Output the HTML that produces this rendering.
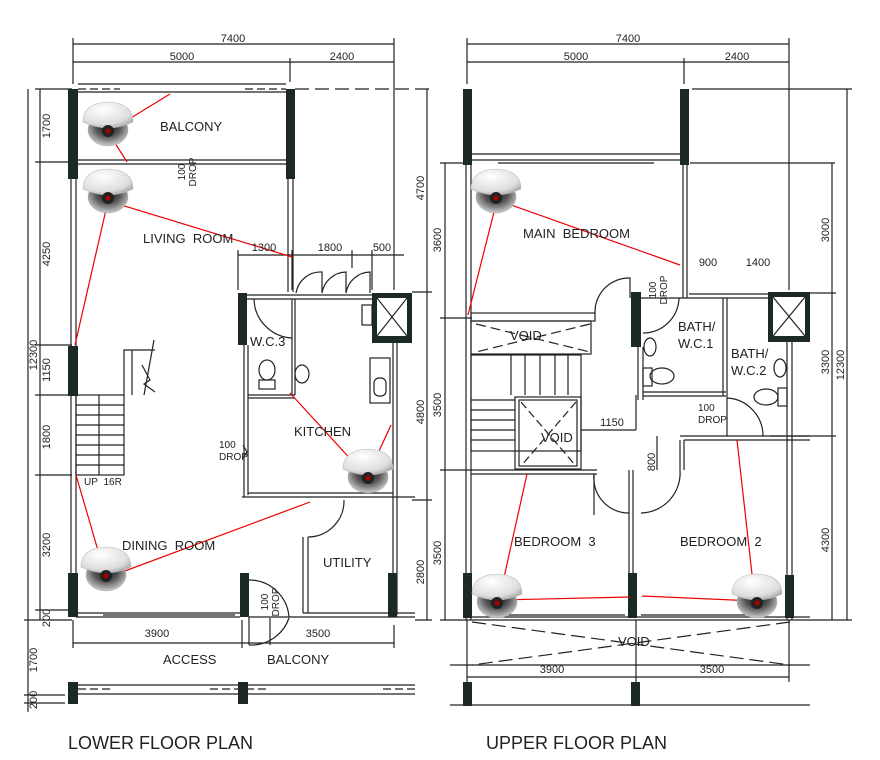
<!DOCTYPE html>
<html><head><meta charset="utf-8"><style>
html,body{margin:0;padding:0;background:#fff;}
svg{display:block;font-family:"Liberation Sans",sans-serif;}
text{fill:#222;}
</style></head><body>
<svg width="880" height="760" viewBox="0 0 880 760" xmlns="http://www.w3.org/2000/svg">
<defs>
<radialGradient id="dome" cx="0.4" cy="0.3" r="0.8"><stop offset="0" stop-color="#fff"/><stop offset="0.7" stop-color="#ddd"/><stop offset="1" stop-color="#999"/></radialGradient>
<radialGradient id="lens" cx="0.5" cy="0.4" r="0.6"><stop offset="0" stop-color="#111"/><stop offset="0.5" stop-color="#555"/><stop offset="1" stop-color="#ccc"/></radialGradient>
<g id="cam">
<ellipse cx="0" cy="12" rx="20" ry="16" fill="url(#lens)" stroke="#aaa" stroke-width="0.5"/>
<path d="M-25 4 Q-25 -15 0 -16 Q25 -15 25 4 Q12 10 0 10 Q-12 10 -25 4Z" fill="url(#dome)" stroke="#bbb" stroke-width="0.6"/>
<circle cx="0" cy="13" r="6" fill="#222"/><circle cx="0" cy="13" r="2.5" fill="#a00"/>
</g>
</defs>
<g stroke="#222" fill="none" stroke-width="1.2">
<!-- ===== LOWER PLAN ===== -->
<!-- top dims -->
<line x1="73" y1="44" x2="394" y2="44"/><line x1="73" y1="62" x2="394" y2="62"/>
<line x1="73" y1="38" x2="73" y2="84"/><line x1="394" y1="38" x2="394" y2="290"/><line x1="290" y1="58" x2="290" y2="82"/>
<!-- left dims -->
<line x1="40" y1="89" x2="40" y2="620"/><line x1="28" y1="89" x2="28" y2="712"/>
<line x1="35" y1="89" x2="72" y2="89"/><line x1="35" y1="162" x2="72" y2="162"/><line x1="35" y1="345" x2="72" y2="345"/><line x1="35" y1="395" x2="72" y2="395"/><line x1="35" y1="475" x2="72" y2="475"/><line x1="35" y1="610" x2="72" y2="610"/><line x1="24" y1="620" x2="72" y2="620"/><line x1="24" y1="695" x2="65" y2="695"/><line x1="24" y1="703" x2="65" y2="703"/>
<!-- right dims -->
<line x1="427" y1="89" x2="427" y2="620"/><line x1="295" y1="89" x2="432" y2="89" stroke-dasharray="14 6"/>
<line x1="412" y1="292" x2="432" y2="292"/><line x1="412" y1="500" x2="432" y2="500"/><line x1="415" y1="620" x2="432" y2="620"/>
<!-- kitchen dims -->
<line x1="238" y1="255" x2="404" y2="255"/><line x1="238" y1="250" x2="238" y2="290"/><line x1="292" y1="250" x2="292" y2="290"/><line x1="352" y1="250" x2="352" y2="268"/><line x1="372" y1="250" x2="372" y2="290"/>
<!-- balcony -->
<rect x="68" y="89" width="10" height="90" fill="#1b2a22" stroke="none"/>
<rect x="286" y="89" width="9" height="90" fill="#1b2a22" stroke="none"/>
<line x1="78" y1="84" x2="286" y2="84"/><line x1="78" y1="92" x2="286" y2="92"/><line x1="78" y1="89" x2="120" y2="89" stroke-dasharray="8 4"/><line x1="245" y1="89" x2="286" y2="89" stroke-dasharray="8 4"/>
<line x1="78" y1="160" x2="286" y2="160"/><line x1="78" y1="164" x2="286" y2="164"/>
<!-- left walls -->
<line x1="71" y1="179" x2="71" y2="575"/><line x1="76" y1="179" x2="76" y2="575"/>
<rect x="68" y="346" width="10" height="50" fill="#1b2a22" stroke="none"/>
<rect x="68" y="573" width="10" height="44" fill="#1b2a22" stroke="none"/>
<line x1="288" y1="179" x2="288" y2="292"/><line x1="293" y1="179" x2="293" y2="292"/>
<!-- stair -->
<rect x="76" y="395" width="48" height="80"/><line x1="99" y1="395" x2="99" y2="475"/>
<line x1="76" y1="405" x2="124" y2="405"/><line x1="76" y1="415" x2="124" y2="415"/><line x1="76" y1="425" x2="124" y2="425"/><line x1="76" y1="435" x2="124" y2="435"/><line x1="76" y1="445" x2="124" y2="445"/><line x1="76" y1="455" x2="124" y2="455"/><line x1="76" y1="465" x2="124" y2="465"/>
<path d="M124 395 L124 350 L155 350 M132 350 L132 395 M142 365 L150 380 L144 384 L155 392"/>
<line x1="154" y1="340" x2="144" y2="395"/>
<!-- kitchen / wc -->
<rect x="238" y="293" width="9" height="52" fill="#1b2a22" stroke="none"/>
<line x1="247" y1="295" x2="372" y2="295"/><line x1="247" y1="299" x2="372" y2="299"/>
<line x1="244" y1="345" x2="244" y2="497"/><line x1="248" y1="345" x2="248" y2="495"/>
<line x1="242" y1="497" x2="415" y2="497"/><line x1="248" y1="493" x2="393" y2="493"/>
<line x1="292" y1="299" x2="292" y2="395"/><line x1="295" y1="299" x2="295" y2="395"/>
<line x1="248" y1="395" x2="295" y2="395"/><line x1="248" y1="398" x2="295" y2="398"/>
<line x1="393" y1="343" x2="393" y2="615"/><line x1="397" y1="343" x2="397" y2="615"/>
<path d="M254 299 A40 40 0 0 0 292 338"/>
<path d="M296 293 A25 25 0 0 1 322 272 L322 293 A25 25 0 0 1 346 272 L346 293 A25 25 0 0 1 370 272 L370 293"/>
<rect x="372" y="293" width="40" height="50" fill="#1b2a22" stroke="none"/>
<rect x="377" y="298" width="30" height="38" fill="#fff" stroke="none"/>
<path d="M377 298 L407 336 M407 298 L377 336"/>
<rect x="362" y="305" width="10" height="20"/>
<rect x="370" y="358" width="20" height="45"/><rect x="374" y="378" width="12" height="18" rx="5"/>
<ellipse cx="267" cy="370" rx="8" ry="10"/><rect x="259" y="380" width="16" height="9"/>
<ellipse cx="302" cy="374" rx="7" ry="9"/>
<path d="M243 445 L247 452 L243 458"/>
<!-- dining / utility -->
<rect x="240" y="573" width="9" height="44" fill="#1b2a22" stroke="none"/>
<rect x="388" y="573" width="9" height="44" fill="#1b2a22" stroke="none"/>
<line x1="76" y1="613" x2="240" y2="613"/><line x1="76" y1="617" x2="240" y2="617"/><line x1="103" y1="615" x2="235" y2="615"/>
<line x1="249" y1="617" x2="415" y2="617"/><line x1="303" y1="613" x2="415" y2="613"/>
<line x1="303" y1="537" x2="303" y2="613"/><line x1="308" y1="537" x2="308" y2="613"/>
<path d="M308 537 A36 36 0 0 0 344 500"/>
<path d="M249 580 A40 40 0 0 1 289 617 M249 645 A40 40 0 0 0 289 618 M270 645 L270 618"/>
<line x1="249" y1="617" x2="249" y2="645"/>
<!-- bottom dims -->
<line x1="73" y1="643" x2="394" y2="643"/><line x1="73" y1="620" x2="73" y2="648"/><line x1="242" y1="620" x2="242" y2="648"/><line x1="394" y1="625" x2="394" y2="648"/>
<rect x="68" y="682" width="10" height="22" fill="#1b2a22" stroke="none"/><rect x="238" y="682" width="10" height="22" fill="#1b2a22" stroke="none"/>
<line x1="78" y1="685" x2="415" y2="685"/><line x1="78" y1="694" x2="415" y2="694"/><line x1="78" y1="689" x2="110" y2="689" stroke-dasharray="8 4"/><line x1="210" y1="689" x2="270" y2="689" stroke-dasharray="8 4"/><line x1="383" y1="689" x2="415" y2="689" stroke-dasharray="8 4"/>

<!-- ===== UPPER PLAN ===== -->
<line x1="467" y1="44" x2="789" y2="44"/><line x1="467" y1="62" x2="789" y2="62"/>
<line x1="467" y1="38" x2="467" y2="84"/><line x1="789" y1="38" x2="789" y2="290"/><line x1="684" y1="58" x2="684" y2="84"/>
<line x1="692" y1="89" x2="852" y2="89"/><line x1="847" y1="89" x2="847" y2="620"/>
<line x1="690" y1="163" x2="835" y2="163"/><line x1="832" y1="163" x2="832" y2="620"/>
<line x1="810" y1="293" x2="836" y2="293"/><line x1="770" y1="436" x2="836" y2="436"/><line x1="810" y1="620" x2="852" y2="620"/>
<line x1="445" y1="163" x2="445" y2="620"/><line x1="440" y1="163" x2="472" y2="163"/><line x1="440" y1="318" x2="472" y2="318"/><line x1="440" y1="470" x2="472" y2="470"/><line x1="440" y1="620" x2="472" y2="620"/>
<rect x="463" y="89" width="9" height="76" fill="#1b2a22" stroke="none"/>
<rect x="680" y="89" width="9" height="76" fill="#1b2a22" stroke="none"/>
<line x1="472" y1="154" x2="680" y2="154"/><line x1="472" y1="160" x2="680" y2="160"/><line x1="498" y1="163" x2="654" y2="163"/>
<line x1="466" y1="165" x2="466" y2="620"/><line x1="471" y1="165" x2="471" y2="620"/>
<line x1="683" y1="165" x2="683" y2="298"/><line x1="687" y1="165" x2="687" y2="298"/>
<!-- void top -->
<rect x="471" y="313" width="124" height="8"/><rect x="471" y="321" width="120" height="33"/>
<path d="M476 324 L590 352 M590 324 L476 352" stroke-dasharray="10 5"/>
<path d="M595 313 A34 34 0 0 1 630 278 L630 298"/>
<!-- stairs -->
<rect x="471" y="355" width="110" height="96"/>
<line x1="511" y1="355" x2="511" y2="395"/><line x1="525" y1="355" x2="525" y2="395"/><line x1="540" y1="355" x2="540" y2="395"/><line x1="555" y1="355" x2="555" y2="395"/><line x1="568" y1="355" x2="568" y2="395"/>
<line x1="471" y1="400" x2="515" y2="400"/><line x1="471" y1="410" x2="515" y2="410"/><line x1="471" y1="420" x2="515" y2="420"/><line x1="471" y1="430" x2="515" y2="430"/><line x1="471" y1="440" x2="515" y2="440"/>
<rect x="515" y="397" width="66" height="72"/><rect x="519" y="400" width="58" height="66"/>
<path d="M521 402 L576 466 M576 402 L521 466" stroke-dasharray="8 4"/>
<line x1="471" y1="474" x2="597" y2="474"/><line x1="471" y1="470" x2="597" y2="470"/>
<line x1="581" y1="430" x2="636" y2="430"/>
<!-- bath -->
<rect x="631" y="292" width="10" height="55" fill="#1b2a22" stroke="none"/>
<line x1="641" y1="298" x2="770" y2="298"/><line x1="689" y1="294" x2="770" y2="294"/>
<line x1="638" y1="347" x2="638" y2="400"/><line x1="643" y1="347" x2="643" y2="400"/>
<line x1="643" y1="392" x2="726" y2="392"/><line x1="643" y1="396" x2="726" y2="396"/>
<line x1="723" y1="298" x2="723" y2="396"/><line x1="727" y1="298" x2="727" y2="436"/>
<path d="M643 333 A36 36 0 0 0 679 298"/>
<ellipse cx="650" cy="347" rx="6" ry="9"/><ellipse cx="662" cy="376" rx="12" ry="8"/><rect x="643" y="368" width="9" height="18"/>
<rect x="768" y="292" width="42" height="50" fill="#1b2a22" stroke="none"/><rect x="773" y="297" width="32" height="39" fill="#fff" stroke="none"/>
<path d="M773 297 L805 336 M805 297 L773 336"/>
<line x1="787" y1="342" x2="787" y2="620"/><line x1="792" y1="342" x2="792" y2="620"/>
<ellipse cx="780" cy="368" rx="6" ry="9"/><ellipse cx="766" cy="397" rx="12" ry="8"/><rect x="778" y="388" width="9" height="18"/>
<path d="M727 398 A38 38 0 0 1 763 436"/>
<line x1="680" y1="436" x2="810" y2="436"/><line x1="684" y1="440" x2="810" y2="440"/>
<line x1="680" y1="440" x2="680" y2="470"/><line x1="684" y1="440" x2="684" y2="470"/>
<line x1="636" y1="395" x2="636" y2="430"/><line x1="657" y1="436" x2="657" y2="470"/>
<!-- bedrooms -->
<line x1="594" y1="474" x2="594" y2="515"/><line x1="629" y1="470" x2="629" y2="600"/><line x1="633" y1="470" x2="633" y2="600"/>
<path d="M594 474 A35 35 0 0 0 629 513"/><path d="M680 470 A40 40 0 0 1 641 513"/>
<rect x="463" y="573" width="9" height="45" fill="#1b2a22" stroke="none"/>
<rect x="628" y="573" width="9" height="45" fill="#1b2a22" stroke="none"/>
<rect x="785" y="575" width="9" height="43" fill="#1b2a22" stroke="none"/>
<line x1="472" y1="617" x2="810" y2="617"/><line x1="472" y1="620" x2="810" y2="620"/><line x1="500" y1="615" x2="625" y2="615"/><line x1="641" y1="615" x2="760" y2="615"/>
<!-- void bottom -->
<path d="M472 622 L790 665 M790 622 L472 665" stroke-dasharray="14 6"/>
<line x1="450" y1="665" x2="810" y2="665"/><line x1="450" y1="705" x2="810" y2="705"/>
<line x1="467" y1="677" x2="789" y2="677"/><line x1="467" y1="620" x2="467" y2="682"/><line x1="636" y1="620" x2="636" y2="682"/><line x1="789" y1="620" x2="789" y2="682"/>
<rect x="463" y="682" width="9" height="24" fill="#1b2a22" stroke="none"/><rect x="631" y="682" width="9" height="24" fill="#1b2a22" stroke="none"/>
</g>

<!-- red view lines -->
<g stroke="#e00" stroke-width="1.2" fill="none">
<path d="M170 94 L108 132 L127 162"/>
<path d="M292 257 L108 201 L75 345"/>
<path d="M290 393 L367 477 L391 425"/>
<path d="M310 502 L106 578 L76 475"/>
<path d="M680 265 L497 200 L468 315"/>
<path d="M527 474 L499 600 L630 597"/>
<path d="M642 596 L755 601 L737 440"/>
</g>

<!-- cameras -->
<use href="#cam" x="108" y="118"/>
<use href="#cam" x="108" y="185"/>
<use href="#cam" x="368" y="465"/>
<use href="#cam" x="106" y="563"/>
<use href="#cam" x="496" y="185"/>
<use href="#cam" x="497" y="590"/>
<use href="#cam" x="757" y="590"/>

<!-- text -->
<g font-size="11" text-anchor="middle">
<text x="233" y="42">7400</text><text x="182" y="60">5000</text><text x="342" y="60">2400</text>
<text x="628" y="42">7400</text><text x="576" y="60">5000</text><text x="737" y="60">2400</text>
<text x="264" y="251">1300</text><text x="330" y="251">1800</text><text x="382" y="251">500</text>
<text x="708" y="266">900</text><text x="758" y="266">1400</text>
<text x="612" y="426">1150</text>
<text x="157" y="637">3900</text><text x="318" y="637">3500</text>
<text x="552" y="673">3900</text><text x="712" y="673">3500</text>
</g>
<g font-size="11" text-anchor="middle">
<text transform="translate(50,126) rotate(-90)">1700</text>
<text transform="translate(50,254) rotate(-90)">4250</text>
<text transform="translate(50,370) rotate(-90)">1150</text>
<text transform="translate(50,437) rotate(-90)">1800</text>
<text transform="translate(50,545) rotate(-90)">3200</text>
<text transform="translate(50,618) rotate(-90)">200</text>
<text transform="translate(37,355) rotate(-90)">12300</text>
<text transform="translate(37,660) rotate(-90)">1700</text>
<text transform="translate(37,700) rotate(-90)">200</text>
<text transform="translate(424,188) rotate(-90)">4700</text>
<text transform="translate(424,412) rotate(-90)">4800</text>
<text transform="translate(424,572) rotate(-90)">2800</text>
<text transform="translate(441,240) rotate(-90)">3600</text>
<text transform="translate(441,405) rotate(-90)">3500</text>
<text transform="translate(441,553) rotate(-90)">3500</text>
<text transform="translate(829,230) rotate(-90)">3000</text>
<text transform="translate(829,362) rotate(-90)">3300</text>
<text transform="translate(829,540) rotate(-90)">4300</text>
<text transform="translate(844,365) rotate(-90)">12300</text>
<text transform="translate(655,462) rotate(-90)">800</text>
<text transform="translate(185,172) rotate(-90)" font-size="10">100</text>
<text transform="translate(196,172) rotate(-90)" font-size="10">DROP</text>
<text transform="translate(268,602) rotate(-90)" font-size="10">100</text>
<text transform="translate(279,602) rotate(-90)" font-size="10">DROP</text>
<text transform="translate(656,290) rotate(-90)" font-size="10">100</text>
<text transform="translate(667,290) rotate(-90)" font-size="10">DROP</text>
</g>
<g font-size="10">
<text x="219" y="448">100</text><text x="219" y="460">DROP</text>
<text x="698" y="411">100</text><text x="698" y="423">DROP</text>
<text x="84" y="485">UP&#160;&#160;16R</text>
</g>
<g font-size="13">
<text x="160" y="131">BALCONY</text>
<text x="143" y="243">LIVING&#160;&#160;ROOM</text>
<text x="250" y="346">W.C.3</text>
<text x="294" y="436">KITCHEN</text>
<text x="122" y="550">DINING&#160;&#160;ROOM</text>
<text x="323" y="567">UTILITY</text>
<text x="163" y="664">ACCESS</text>
<text x="267" y="664">BALCONY</text>
<text x="523" y="238">MAIN&#160;&#160;BEDROOM</text>
<text x="510" y="340">VOID</text>
<text x="541" y="442">VOID</text>
<text x="678" y="331">BATH/</text><text x="678" y="348">W.C.1</text>
<text x="731" y="358">BATH/</text><text x="731" y="375">W.C.2</text>
<text x="514" y="546">BEDROOM&#160;&#160;3</text>
<text x="680" y="546">BEDROOM&#160;&#160;2</text>
<text x="618" y="646">VOID</text>
</g>
<g font-size="18">
<text x="68" y="749">LOWER FLOOR PLAN</text>
<text x="486" y="749">UPPER FLOOR PLAN</text>
</g>
</svg>
</body></html>
